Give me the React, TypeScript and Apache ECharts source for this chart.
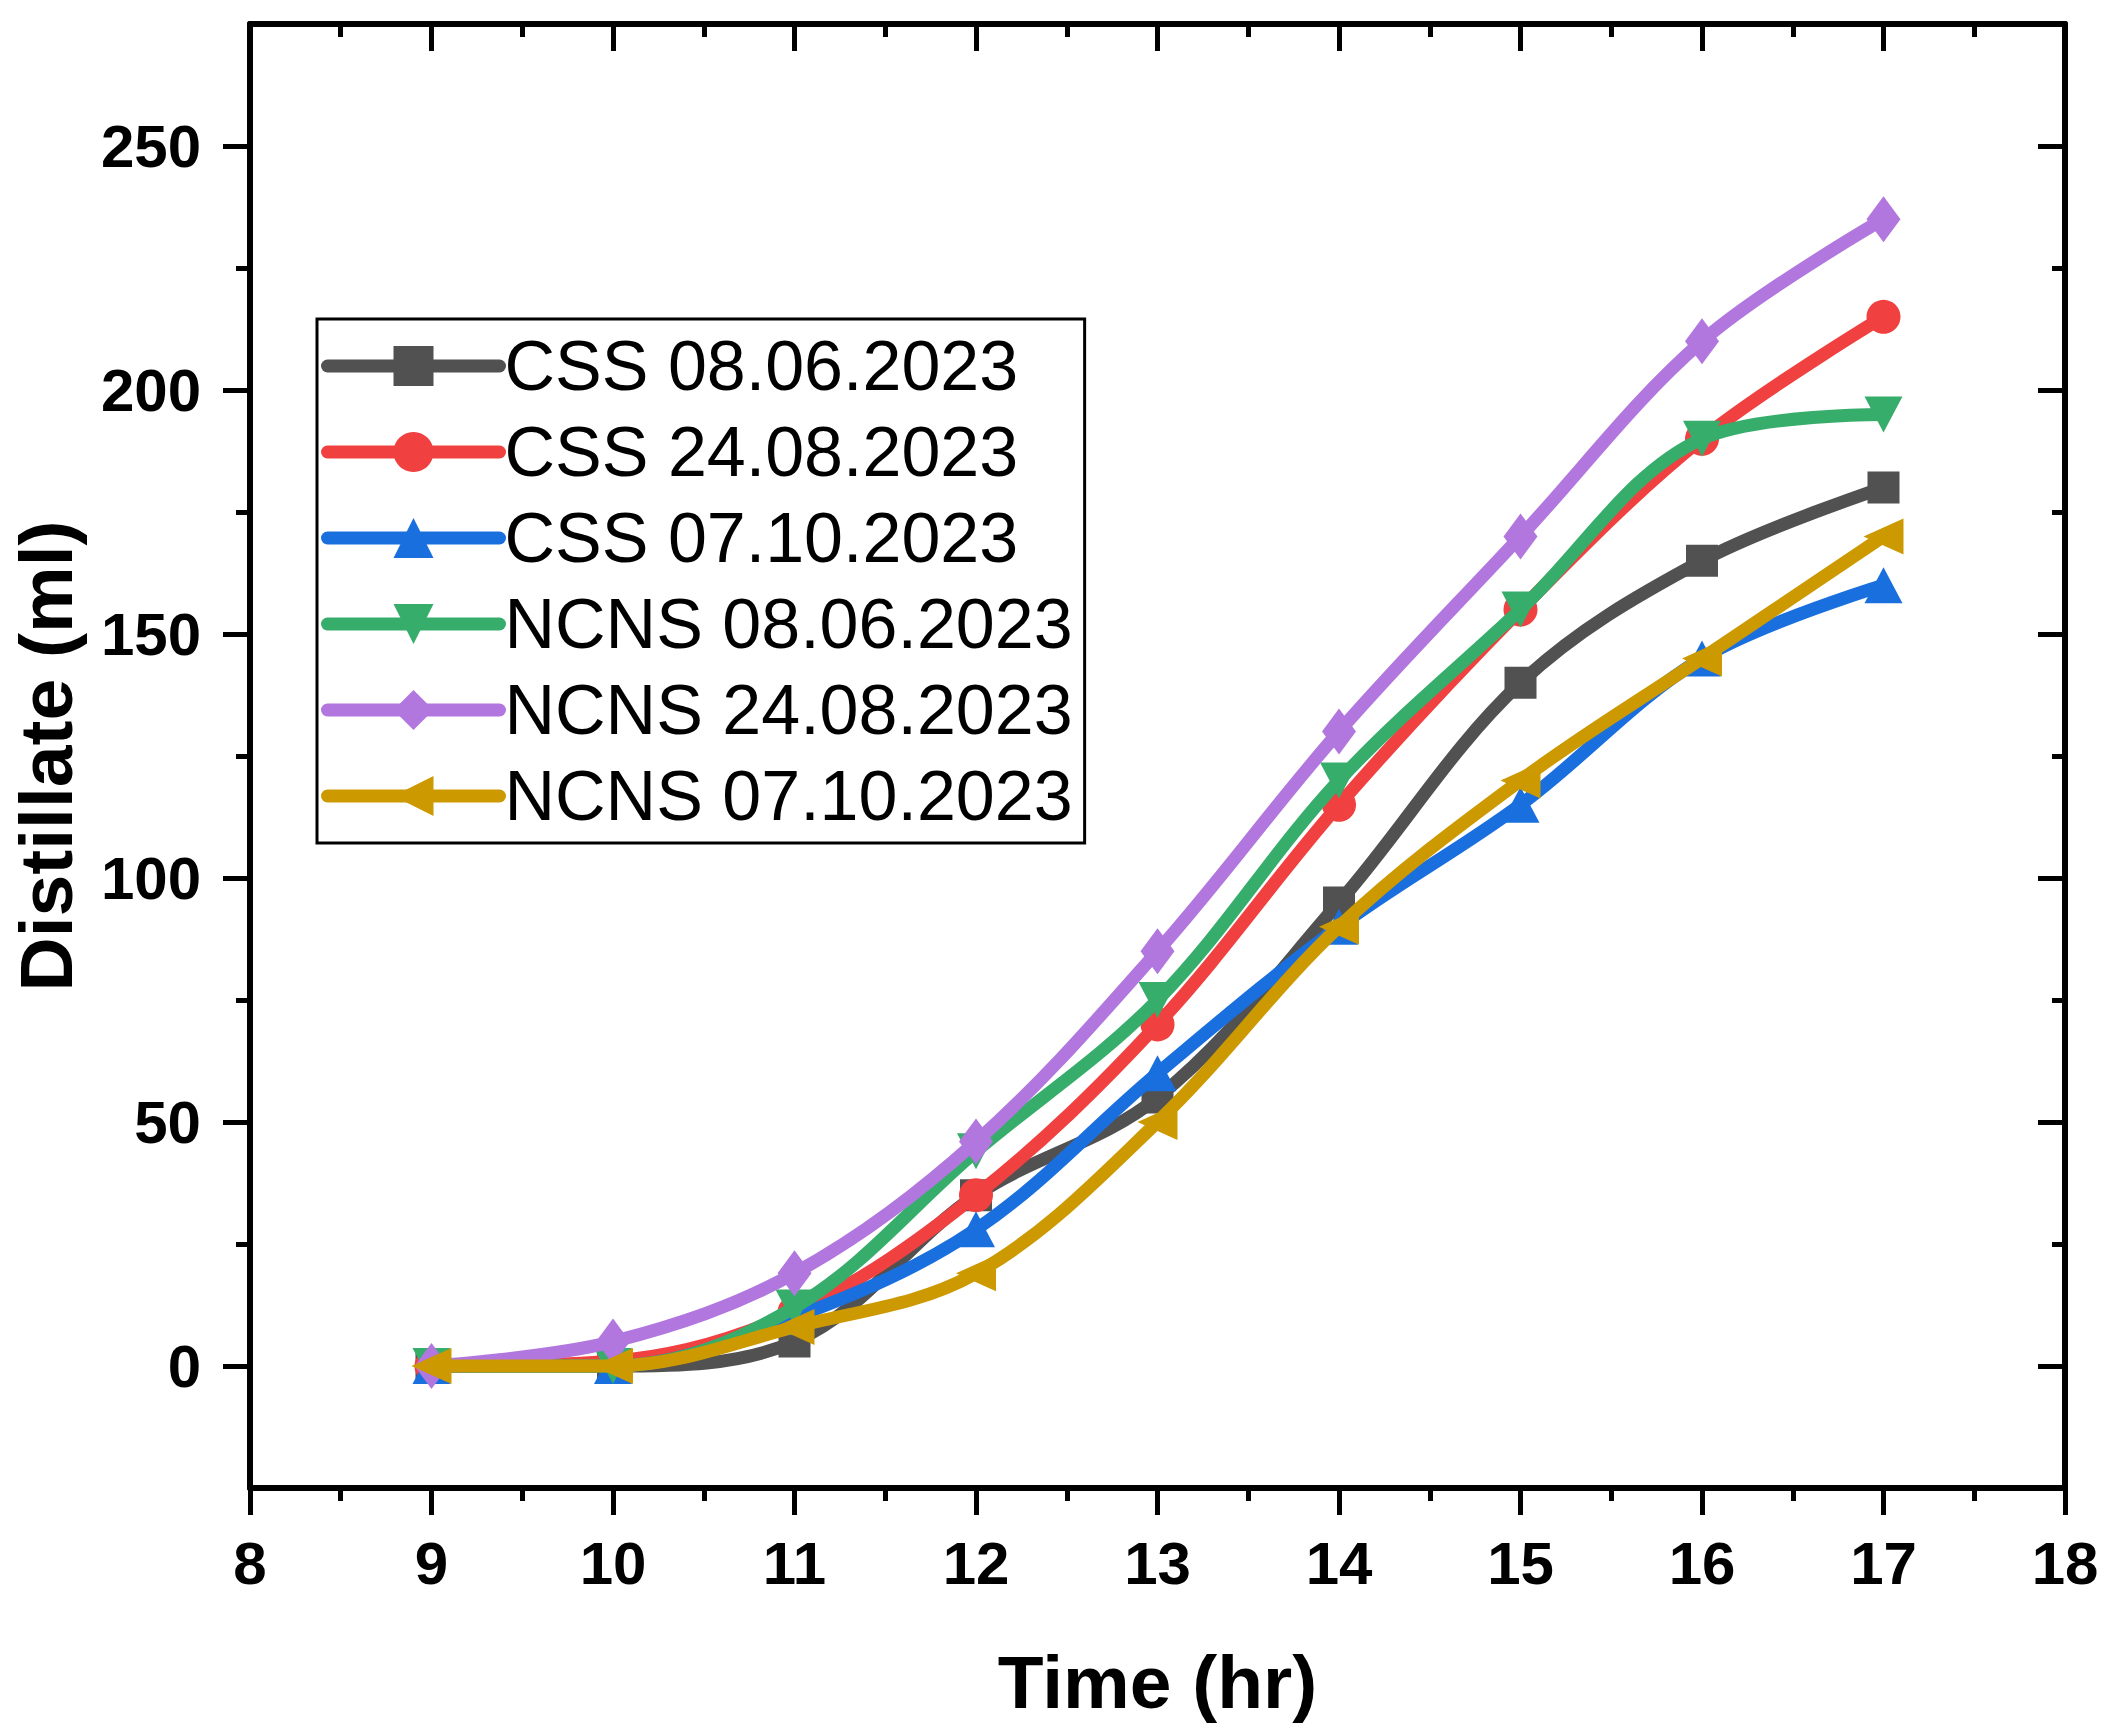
import React, { useEffect, useRef } from "react";
import * as echarts from "echarts";

const hours = [9, 10, 11, 12, 13, 14, 15, 16, 17];
const css0806 = [0, 0, 5, 35, 55, 95, 140, 165, 180];
const css2408 = [0, 1, 11, 35, 70, 115, 155, 190, 215];
const css0710 = [0, 0, 10, 28, 60, 90, 115, 145, 160];
const ncns0806 = [0, 0, 12, 44, 75, 120, 155, 190, 195];
const ncns2408 = [0, 5, 19, 46, 85, 130, 170, 210, 235];
const ncns0710 = [0, 0, 8, 19, 50, 90, 120, 145, 170];

const seriesNames = [
  "CSS 08.06.2023",
  "CSS 24.08.2023",
  "CSS 07.10.2023",
  "NCNS 08.06.2023",
  "NCNS 24.08.2023",
  "NCNS 07.10.2023",
];
const seriesValues = [css0806, css2408, css0710, ncns0806, ncns2408, ncns0710];
const colors = ["#515151", "#F14040", "#1A6FDF", "#37AD6B", "#B177DE", "#CC9900"];
const symbols = ["rect", "circle", "triangle", "triangle", "diamond", "triangle"];
const symbolRotates = [0, 0, 0, 180, 0, 90];
const symbolSizes: any[] = [32, 34, [38, 36], [38, 36], [34, 46], [36, 40]];

const yMajor = [0, 50, 100, 150, 200, 250];
const yMinor = [25, 75, 125, 175, 225];

const FONT = "'Liberation Sans', Arial, sans-serif";

export default function App() {
  const ref = useRef<HTMLDivElement>(null);
  useEffect(() => {
    if (!ref.current) return;
    const chart = echarts.init(ref.current, undefined, { renderer: "svg" });
    const gridRect = { left: 249, right: 46, top: 24, bottom: 248 };
    const axisLine = { show: true, onZero: false, lineStyle: { color: "#000", width: 6 } };
    const tickStyle = { color: "#000", width: 5 };

    const option: any = {
      animation: false,
      backgroundColor: "#fff",
      grid: [
        { ...gridRect, containLabel: false },
        { ...gridRect, containLabel: false },
      ],
      xAxis: [
        {
          type: "value",
          gridIndex: 0,
          position: "bottom",
          min: 8,
          max: 18,
          interval: 1,
          name: "Time (hr)",
          nameLocation: "middle",
          nameGap: 156,
          nameTextStyle: { fontFamily: FONT, fontSize: 75, fontWeight: "bold", color: "#000" },
          axisLine,
          axisTick: { show: true, inside: false, length: 27, lineStyle: tickStyle },
          minorTick: { show: true, splitNumber: 2, length: 13, lineStyle: tickStyle },
          axisLabel: { show: true, margin: 45, fontFamily: FONT, fontSize: 60, fontWeight: "bold", color: "#000" },
          splitLine: { show: false },
        },
        {
          type: "value",
          gridIndex: 0,
          position: "top",
          min: 8,
          max: 18,
          interval: 1,
          axisLine,
          axisTick: { show: true, inside: true, length: 27, lineStyle: tickStyle },
          minorTick: { show: true, splitNumber: 2, length: 13, lineStyle: tickStyle },
          axisLabel: { show: false },
          splitLine: { show: false },
        },
        {
          type: "value",
          gridIndex: 1,
          min: 8,
          max: 18,
          show: false,
        },
      ],
      yAxis: [
        {
          type: "value",
          gridIndex: 0,
          position: "left",
          min: -25,
          max: 275,
          interval: 25,
          name: "Distillate (ml)",
          nameLocation: "middle",
          nameGap: 167,
          nameTextStyle: { fontFamily: FONT, fontSize: 75, fontWeight: "bold", color: "#000" },
          axisLine,
          axisTick: { show: true, inside: false, length: 27, lineStyle: tickStyle, customValues: yMajor },
          axisLabel: {
            show: true,
            margin: 49,
            fontFamily: FONT,
            fontSize: 60,
            fontWeight: "bold",
            color: "#000",
            customValues: yMajor,
          },
          splitLine: { show: false },
        },
        {
          type: "value",
          gridIndex: 0,
          position: "right",
          min: -25,
          max: 275,
          interval: 25,
          axisLine,
          axisTick: { show: true, inside: true, length: 27, lineStyle: tickStyle, customValues: yMajor },
          axisLabel: { show: false },
          splitLine: { show: false },
        },
        {
          type: "value",
          gridIndex: 1,
          position: "left",
          min: -25,
          max: 275,
          interval: 25,
          axisLine: { show: false, onZero: false },
          axisTick: { show: true, inside: false, length: 13, lineStyle: tickStyle, customValues: yMinor },
          axisLabel: { show: false },
          splitLine: { show: false },
        },
        {
          type: "value",
          gridIndex: 1,
          position: "right",
          min: -25,
          max: 275,
          interval: 25,
          axisLine: { show: false, onZero: false },
          axisTick: { show: true, inside: true, length: 13, lineStyle: tickStyle, customValues: yMinor },
          axisLabel: { show: false },
          splitLine: { show: false },
        },
      ],
      legend: {
        show: true,
        orient: "vertical",
        left: 317,
        top: 319,
        padding: [12, 12, 12, 4],
        itemWidth: 172,
        itemHeight: 50,
        itemGap: 16,
        borderColor: "#000",
        borderWidth: 3,
        backgroundColor: "#fff",
        textStyle: { fontFamily: FONT, fontSize: 70, color: "#000" },
        lineStyle: { width: 13, cap: "round" },
        symbolRotate: "inherit",
        data: seriesNames,
      },
      series: seriesNames.map((name, i) => ({
        name,
        type: "line",
        xAxisIndex: 0,
        yAxisIndex: 0,
        data: hours.map((h, j) => [h, seriesValues[i][j]]),
        smooth: 0.35,
        symbol: symbols[i],
        symbolSize: symbolSizes[i],
        symbolRotate: symbolRotates[i],
        showSymbol: true,
        color: colors[i],
        itemStyle: { color: colors[i] },
        lineStyle: { color: colors[i], width: 13, cap: "round", join: "round" },
        z: 2 + i,
      })),
    };
    chart.setOption(option);
    return () => chart.dispose();
  }, []);
  return (
    <div
      ref={ref}
      style={{ position: "fixed", left: 0, top: 0, width: 2111, height: 1736, background: "#fff" }}
    />
  );
}
